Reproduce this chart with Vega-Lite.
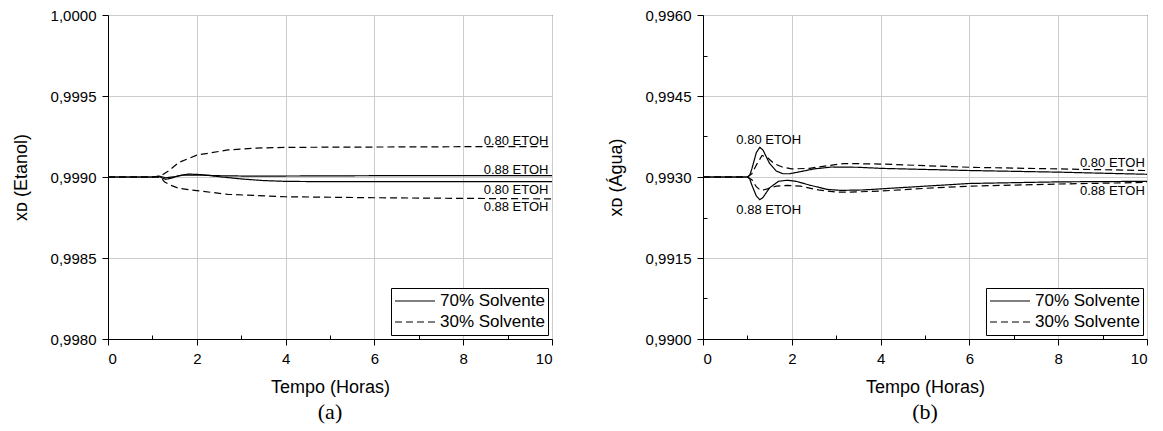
{
  "$schema": "https://vega.github.io/schema/vega-lite/v6.json",
  "padding": {"left": 11, "top": 7, "right": 5, "bottom": 5},
  "spacing": 50,
  "config": {
    "font": "Liberation Sans",
    "view": {"stroke": "black", "strokeWidth": 1},
    "axis": {
      "domainColor": "black", "tickColor": "black", "labelColor": "black", "titleColor": "black",
      "gridColor": "#cccccc", "gridWidth": 1, "labelFontSize": 15, "titleFontSize": 18,
      "titleFontWeight": "normal", "tickSize": 6, "labelPadding": 6,
      "labelFont": "Liberation Sans", "titleFont": "Liberation Sans"
    },
    "legend": {
      "strokeColor": "black", "padding": 3, "labelFontSize": 17, "labelFont": "Liberation Sans",
      "labelColor": "black", "symbolType": "stroke", "symbolSize": 1600, "symbolStrokeColor": "black",
      "symbolStrokeWidth": 1.2, "rowPadding": 1, "offset": 4, "fillColor": "white", "labelOffset": 4,
      "clipHeight": 20
    },
    "title": {"font": "Liberation Serif", "fontSize": 22, "fontWeight": "normal", "color": "black"}
  },
  "datasets": {
    "a": [
      {"t": 0, "y": 0.999, "s": "70% Solvente", "e": "0.80"},
      {"t": 1.0, "y": 0.999, "s": "70% Solvente", "e": "0.80"},
      {"t": 1.15, "y": 0.999003, "s": "70% Solvente", "e": "0.80"},
      {"t": 1.3, "y": 0.998985, "s": "70% Solvente", "e": "0.80"},
      {"t": 1.45, "y": 0.998995, "s": "70% Solvente", "e": "0.80"},
      {"t": 1.6, "y": 0.999008, "s": "70% Solvente", "e": "0.80"},
      {"t": 1.8, "y": 0.999018, "s": "70% Solvente", "e": "0.80"},
      {"t": 2.1, "y": 0.999015, "s": "70% Solvente", "e": "0.80"},
      {"t": 2.5, "y": 0.999002, "s": "70% Solvente", "e": "0.80"},
      {"t": 3.0, "y": 0.998988, "s": "70% Solvente", "e": "0.80"},
      {"t": 3.5, "y": 0.998978, "s": "70% Solvente", "e": "0.80"},
      {"t": 4.0, "y": 0.998973, "s": "70% Solvente", "e": "0.80"},
      {"t": 5.0, "y": 0.998971, "s": "70% Solvente", "e": "0.80"},
      {"t": 7.0, "y": 0.998971, "s": "70% Solvente", "e": "0.80"},
      {"t": 10, "y": 0.998971, "s": "70% Solvente", "e": "0.80"},

      {"t": 0, "y": 0.999, "s": "70% Solvente", "e": "0.88"},
      {"t": 1.0, "y": 0.999, "s": "70% Solvente", "e": "0.88"},
      {"t": 1.15, "y": 0.999006, "s": "70% Solvente", "e": "0.88"},
      {"t": 1.3, "y": 0.998995, "s": "70% Solvente", "e": "0.88"},
      {"t": 1.5, "y": 0.999002, "s": "70% Solvente", "e": "0.88"},
      {"t": 1.7, "y": 0.999012, "s": "70% Solvente", "e": "0.88"},
      {"t": 2.0, "y": 0.999012, "s": "70% Solvente", "e": "0.88"},
      {"t": 2.5, "y": 0.999008, "s": "70% Solvente", "e": "0.88"},
      {"t": 3.0, "y": 0.999006, "s": "70% Solvente", "e": "0.88"},
      {"t": 4.0, "y": 0.999006, "s": "70% Solvente", "e": "0.88"},
      {"t": 6.0, "y": 0.999008, "s": "70% Solvente", "e": "0.88"},
      {"t": 10, "y": 0.999009, "s": "70% Solvente", "e": "0.88"},

      {"t": 0, "y": 0.999, "s": "30% Solvente", "e": "0.80"},
      {"t": 1.1, "y": 0.999, "s": "30% Solvente", "e": "0.80"},
      {"t": 1.2, "y": 0.999008, "s": "30% Solvente", "e": "0.80"},
      {"t": 1.35, "y": 0.999035, "s": "30% Solvente", "e": "0.80"},
      {"t": 1.6, "y": 0.99909, "s": "30% Solvente", "e": "0.80"},
      {"t": 2.0, "y": 0.999135, "s": "30% Solvente", "e": "0.80"},
      {"t": 2.7, "y": 0.999167, "s": "30% Solvente", "e": "0.80"},
      {"t": 3.3, "y": 0.999178, "s": "30% Solvente", "e": "0.80"},
      {"t": 4.0, "y": 0.999183, "s": "30% Solvente", "e": "0.80"},
      {"t": 6.0, "y": 0.999185, "s": "30% Solvente", "e": "0.80"},
      {"t": 8.0, "y": 0.999187, "s": "30% Solvente", "e": "0.80"},
      {"t": 10, "y": 0.999188, "s": "30% Solvente", "e": "0.80"},

      {"t": 0, "y": 0.999, "s": "30% Solvente", "e": "0.88"},
      {"t": 1.1, "y": 0.999, "s": "30% Solvente", "e": "0.88"},
      {"t": 1.2, "y": 0.998995, "s": "30% Solvente", "e": "0.88"},
      {"t": 1.27, "y": 0.99897, "s": "30% Solvente", "e": "0.88"},
      {"t": 1.4, "y": 0.99895, "s": "30% Solvente", "e": "0.88"},
      {"t": 1.6, "y": 0.99893, "s": "30% Solvente", "e": "0.88"},
      {"t": 2.0, "y": 0.998916, "s": "30% Solvente", "e": "0.88"},
      {"t": 2.7, "y": 0.998893, "s": "30% Solvente", "e": "0.88"},
      {"t": 4.0, "y": 0.998878, "s": "30% Solvente", "e": "0.88"},
      {"t": 6.0, "y": 0.998872, "s": "30% Solvente", "e": "0.88"},
      {"t": 8.0, "y": 0.998868, "s": "30% Solvente", "e": "0.88"},
      {"t": 10, "y": 0.998865, "s": "30% Solvente", "e": "0.88"}
    ],
    "b": [
      {"t": 0, "y": 0.993, "s": "70% Solvente", "e": "0.80"},
      {"t": 1.0, "y": 0.993, "s": "70% Solvente", "e": "0.80"},
      {"t": 1.05, "y": 0.99303, "s": "70% Solvente", "e": "0.80"},
      {"t": 1.1, "y": 0.99315, "s": "70% Solvente", "e": "0.80"},
      {"t": 1.2, "y": 0.99345, "s": "70% Solvente", "e": "0.80"},
      {"t": 1.28, "y": 0.99355, "s": "70% Solvente", "e": "0.80"},
      {"t": 1.35, "y": 0.9935, "s": "70% Solvente", "e": "0.80"},
      {"t": 1.5, "y": 0.99325, "s": "70% Solvente", "e": "0.80"},
      {"t": 1.65, "y": 0.99311, "s": "70% Solvente", "e": "0.80"},
      {"t": 1.8, "y": 0.99306, "s": "70% Solvente", "e": "0.80"},
      {"t": 1.95, "y": 0.99306, "s": "70% Solvente", "e": "0.80"},
      {"t": 2.2, "y": 0.9931, "s": "70% Solvente", "e": "0.80"},
      {"t": 2.5, "y": 0.99315, "s": "70% Solvente", "e": "0.80"},
      {"t": 2.9, "y": 0.993185, "s": "70% Solvente", "e": "0.80"},
      {"t": 3.5, "y": 0.99318, "s": "70% Solvente", "e": "0.80"},
      {"t": 4.0, "y": 0.99316, "s": "70% Solvente", "e": "0.80"},
      {"t": 5.0, "y": 0.99314, "s": "70% Solvente", "e": "0.80"},
      {"t": 6.0, "y": 0.99312, "s": "70% Solvente", "e": "0.80"},
      {"t": 8.0, "y": 0.99309, "s": "70% Solvente", "e": "0.80"},
      {"t": 10, "y": 0.99305, "s": "70% Solvente", "e": "0.80"},

      {"t": 0, "y": 0.993, "s": "30% Solvente", "e": "0.80"},
      {"t": 1.0, "y": 0.993, "s": "30% Solvente", "e": "0.80"},
      {"t": 1.1, "y": 0.99306, "s": "30% Solvente", "e": "0.80"},
      {"t": 1.2, "y": 0.99322, "s": "30% Solvente", "e": "0.80"},
      {"t": 1.33, "y": 0.9934, "s": "30% Solvente", "e": "0.80"},
      {"t": 1.45, "y": 0.99336, "s": "30% Solvente", "e": "0.80"},
      {"t": 1.6, "y": 0.99325, "s": "30% Solvente", "e": "0.80"},
      {"t": 1.8, "y": 0.99318, "s": "30% Solvente", "e": "0.80"},
      {"t": 2.0, "y": 0.99315, "s": "30% Solvente", "e": "0.80"},
      {"t": 2.4, "y": 0.99316, "s": "30% Solvente", "e": "0.80"},
      {"t": 2.8, "y": 0.99321, "s": "30% Solvente", "e": "0.80"},
      {"t": 3.2, "y": 0.99325, "s": "30% Solvente", "e": "0.80"},
      {"t": 4.0, "y": 0.99324, "s": "30% Solvente", "e": "0.80"},
      {"t": 5.0, "y": 0.99321, "s": "30% Solvente", "e": "0.80"},
      {"t": 6.0, "y": 0.99318, "s": "30% Solvente", "e": "0.80"},
      {"t": 8.0, "y": 0.99315, "s": "30% Solvente", "e": "0.80"},
      {"t": 10, "y": 0.99312, "s": "30% Solvente", "e": "0.80"},

      {"t": 0, "y": 0.993, "s": "70% Solvente", "e": "0.88"},
      {"t": 1.0, "y": 0.993, "s": "70% Solvente", "e": "0.88"},
      {"t": 1.05, "y": 0.99297, "s": "70% Solvente", "e": "0.88"},
      {"t": 1.1, "y": 0.99285, "s": "70% Solvente", "e": "0.88"},
      {"t": 1.2, "y": 0.99265, "s": "70% Solvente", "e": "0.88"},
      {"t": 1.28, "y": 0.99258, "s": "70% Solvente", "e": "0.88"},
      {"t": 1.35, "y": 0.99262, "s": "70% Solvente", "e": "0.88"},
      {"t": 1.5, "y": 0.9928, "s": "70% Solvente", "e": "0.88"},
      {"t": 1.7, "y": 0.99292, "s": "70% Solvente", "e": "0.88"},
      {"t": 1.9, "y": 0.99294, "s": "70% Solvente", "e": "0.88"},
      {"t": 2.1, "y": 0.99292, "s": "70% Solvente", "e": "0.88"},
      {"t": 2.4, "y": 0.99285, "s": "70% Solvente", "e": "0.88"},
      {"t": 2.8, "y": 0.99277, "s": "70% Solvente", "e": "0.88"},
      {"t": 3.1, "y": 0.992752, "s": "70% Solvente", "e": "0.88"},
      {"t": 3.6, "y": 0.99276, "s": "70% Solvente", "e": "0.88"},
      {"t": 4.0, "y": 0.99278, "s": "70% Solvente", "e": "0.88"},
      {"t": 5.0, "y": 0.99283, "s": "70% Solvente", "e": "0.88"},
      {"t": 6.0, "y": 0.99288, "s": "70% Solvente", "e": "0.88"},
      {"t": 8.0, "y": 0.99291, "s": "70% Solvente", "e": "0.88"},
      {"t": 10, "y": 0.99292, "s": "70% Solvente", "e": "0.88"},

      {"t": 0, "y": 0.993, "s": "30% Solvente", "e": "0.88"},
      {"t": 1.0, "y": 0.993, "s": "30% Solvente", "e": "0.88"},
      {"t": 1.1, "y": 0.99295, "s": "30% Solvente", "e": "0.88"},
      {"t": 1.2, "y": 0.99282, "s": "30% Solvente", "e": "0.88"},
      {"t": 1.3, "y": 0.99275, "s": "30% Solvente", "e": "0.88"},
      {"t": 1.45, "y": 0.99278, "s": "30% Solvente", "e": "0.88"},
      {"t": 1.65, "y": 0.99283, "s": "30% Solvente", "e": "0.88"},
      {"t": 1.9, "y": 0.992845, "s": "30% Solvente", "e": "0.88"},
      {"t": 2.2, "y": 0.99283, "s": "30% Solvente", "e": "0.88"},
      {"t": 2.6, "y": 0.99276, "s": "30% Solvente", "e": "0.88"},
      {"t": 3.0, "y": 0.99272, "s": "30% Solvente", "e": "0.88"},
      {"t": 3.3, "y": 0.99272, "s": "30% Solvente", "e": "0.88"},
      {"t": 4.0, "y": 0.99274, "s": "30% Solvente", "e": "0.88"},
      {"t": 5.0, "y": 0.99279, "s": "30% Solvente", "e": "0.88"},
      {"t": 6.0, "y": 0.99283, "s": "30% Solvente", "e": "0.88"},
      {"t": 8.0, "y": 0.99287, "s": "30% Solvente", "e": "0.88"},
      {"t": 10, "y": 0.9929, "s": "30% Solvente", "e": "0.88"}
    ],
    "la": [
      {"t": 9.92, "y": 0.999224, "label": "0.80 ETOH"},
      {"t": 9.92, "y": 0.999045, "label": "0.88 ETOH"},
      {"t": 9.92, "y": 0.99892, "label": "0.80 ETOH"},
      {"t": 9.92, "y": 0.998814, "label": "0.88 ETOH"}
    ],
    "lbc": [
      {"t": 1.48, "y": 0.99368, "label": "0.80 ETOH"},
      {"t": 1.48, "y": 0.992395, "label": "0.88 ETOH"}
    ],
    "lbr": [
      {"t": 9.95, "y": 0.993255, "label": "0.80 ETOH"},
      {"t": 9.95, "y": 0.992734, "label": "0.88 ETOH"}
    ]
  },
  "resolve": {"scale": {"strokeDash": "independent"}, "legend": {"strokeDash": "independent"}},
  "hconcat": [
    {
      "width": 444, "height": 324,
      "title": {"text": "(a)", "orient": "bottom", "offset": 6},
      "resolve": {"scale": {"x": "independent"}, "axis": {"x": "independent"}},
      "layer": [
        {
          "data": {"name": "a"},
          "mark": {"type": "line", "color": "black", "strokeWidth": 1.2, "clip": true},
          "encoding": {
            "x": {"field": "t", "type": "quantitative", "scale": {"domain": [0, 10], "nice": false},
                  "axis": {"title": "Tempo (Horas)", "values": [0, 2, 4, 6, 8, 10], "titlePadding": 12}},
            "y": {"field": "y", "type": "quantitative", "scale": {"domain": [0.998, 1.0], "nice": false, "zero": false},
                  "axis": {"title": "xᴅ (Etanol)", "values": [0.998, 0.9985, 0.999, 0.9995, 1.0],
                           "labelExpr": "replace(format(datum.value, '.4f'), '.', ',')", "titlePadding": 20}},
            "strokeDash": {"field": "s", "type": "nominal",
                           "scale": {"domain": ["70% Solvente", "30% Solvente"], "range": [[1, 0], [7, 4]]},
                           "legend": {"title": null, "orient": "bottom-right"}},
            "detail": {"field": "e"}
          }
        },
        {
          "data": {"name": "a"},
          "mark": {"type": "point", "opacity": 0},
          "encoding": {
            "x": {"field": "t", "type": "quantitative", "scale": {"domain": [0, 10], "nice": false},
                  "axis": {"orient": "bottom", "values": [1, 3, 5, 7, 9], "labels": false, "grid": false,
                           "domain": false, "tickSize": -4, "title": null}}
          }
        },
        {
          "data": {"name": "la"},
          "mark": {"type": "text", "align": "right", "baseline": "middle", "fontSize": 13, "font": "Liberation Sans", "color": "black"},
          "encoding": {
            "x": {"field": "t", "type": "quantitative", "scale": {"domain": [0, 10], "nice": false}, "axis": null},
            "y": {"field": "y", "type": "quantitative"},
            "text": {"field": "label"}
          }
        }
      ]
    },
    {
      "width": 444, "height": 324,
      "title": {"text": "(b)", "orient": "bottom", "offset": 6},
      "resolve": {"scale": {"x": "independent", "y": "independent"}, "axis": {"x": "independent", "y": "independent"}},
      "layer": [
        {
          "data": {"name": "b"},
          "mark": {"type": "line", "color": "black", "strokeWidth": 1.2, "clip": true},
          "encoding": {
            "x": {"field": "t", "type": "quantitative", "scale": {"domain": [0, 10], "nice": false},
                  "axis": {"title": "Tempo (Horas)", "values": [0, 2, 4, 6, 8, 10], "titlePadding": 12}},
            "y": {"field": "y", "type": "quantitative", "scale": {"domain": [0.99, 0.996], "nice": false, "zero": false},
                  "axis": {"title": "xᴅ (Água)", "values": [0.99, 0.9915, 0.993, 0.9945, 0.996],
                           "labelExpr": "replace(format(datum.value, '.4f'), '.', ',')", "titlePadding": 20}},
            "strokeDash": {"field": "s", "type": "nominal",
                           "scale": {"domain": ["70% Solvente", "30% Solvente"], "range": [[1, 0], [7, 4]]},
                           "legend": {"title": null, "orient": "bottom-right"}},
            "detail": {"field": "e"}
          }
        },
        {
          "data": {"name": "b"},
          "mark": {"type": "point", "opacity": 0},
          "encoding": {
            "x": {"field": "t", "type": "quantitative", "scale": {"domain": [0, 10], "nice": false},
                  "axis": {"orient": "bottom", "values": [1, 3, 5, 7, 9], "labels": false, "grid": false,
                           "domain": false, "tickSize": -4, "title": null}},
            "y": {"field": "y", "type": "quantitative", "scale": {"domain": [0.99, 0.996], "nice": false, "zero": false},
                  "axis": {"orient": "left", "values": [0.99075, 0.99225, 0.99375, 0.99525], "labels": false, "grid": false,
                           "domain": false, "tickSize": -4, "title": null}}
          }
        },
        {
          "data": {"name": "lbc"},
          "mark": {"type": "text", "align": "center", "baseline": "middle", "fontSize": 13, "font": "Liberation Sans", "color": "black"},
          "encoding": {
            "x": {"field": "t", "type": "quantitative", "scale": {"domain": [0, 10], "nice": false}, "axis": null},
            "y": {"field": "y", "type": "quantitative", "scale": {"domain": [0.99, 0.996], "nice": false, "zero": false}, "axis": null},
            "text": {"field": "label"}
          }
        },
        {
          "data": {"name": "lbr"},
          "mark": {"type": "text", "align": "right", "baseline": "middle", "fontSize": 13, "font": "Liberation Sans", "color": "black"},
          "encoding": {
            "x": {"field": "t", "type": "quantitative", "scale": {"domain": [0, 10], "nice": false}, "axis": null},
            "y": {"field": "y", "type": "quantitative", "scale": {"domain": [0.99, 0.996], "nice": false, "zero": false}, "axis": null},
            "text": {"field": "label"}
          }
        }
      ]
    }
  ]
}
